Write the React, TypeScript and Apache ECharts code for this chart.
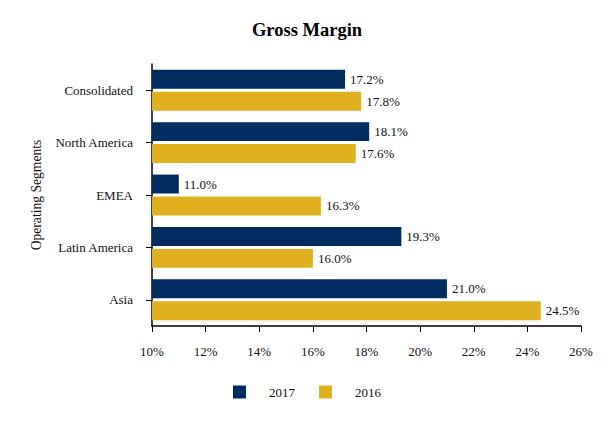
import React, { useEffect, useRef } from "react";
import * as echarts from "echarts";

const categories = ["Consolidated", "North America", "EMEA", "Latin America", "Asia"];
const values2017 = [17.2, 18.1, 11.0, 19.3, 21.0];
const values2016 = [17.8, 17.6, 16.3, 16.0, 24.5];
const seriesNames = ["2017", "2016"];
const xTicks = { min: 10, max: 26, interval: 2 };

const FONT = "'Liberation Serif', 'Times New Roman', serif";

export default function App() {
  const ref = useRef<HTMLDivElement>(null);
  useEffect(() => {
    document.body.style.margin = "0";
    if (!ref.current) return;
    const chart = echarts.init(ref.current, undefined, { renderer: "svg" });
    const label = {
      show: true,
      position: "right",
      distance: 5,
      formatter: (p: any) => p.value.toFixed(1) + "%",
      fontFamily: FONT,
      fontSize: 13,
      color: "#111",
    };
    chart.setOption({
      animation: false,
      textStyle: { fontFamily: FONT },
      title: {
        text: "Gross Margin",
        left: "center",
        top: 15,
        textStyle: { fontFamily: FONT, fontSize: 18.5, fontWeight: "bold", color: "#000" },
      },
      legend: {
        bottom: 25.5,
        left: "center",
        itemWidth: 13,
        itemHeight: 13,
        itemGap: 24,
        icon: "rect",
        textStyle: { fontFamily: FONT, fontSize: 13, color: "#111", padding: [0, 0, 0, 18] },
        data: seriesNames,
      },
      grid: { left: 152, right: 33, top: 64, bottom: 103 },
      xAxis: {
        type: "value",
        min: xTicks.min,
        max: xTicks.max,
        interval: xTicks.interval,
        axisLine: { show: true, lineStyle: { color: "#000", width: 1.5 } },
        axisTick: { show: true, length: 6, lineStyle: { color: "#000" } },
        splitLine: { show: false },
        axisLabel: {
          formatter: (v: number) => v + "%",
          fontFamily: FONT,
          fontSize: 13,
          color: "#111",
          margin: 19,
        },
      },
      yAxis: {
        type: "category",
        data: categories,
        inverse: true,
        name: "Operating Segments",
        nameLocation: "middle",
        nameGap: 108,
        nameRotate: 90,
        nameTextStyle: { fontFamily: FONT, fontSize: 13.6, color: "#111" },
        axisLine: { show: true, lineStyle: { color: "#000", width: 1.5 } },
        axisTick: { show: true, alignWithLabel: true, length: 6, lineStyle: { color: "#000" } },
        axisLabel: { fontFamily: FONT, fontSize: 13, color: "#111", margin: 19 },
      },
      series: [
        {
          name: seriesNames[0],
          type: "bar",
          data: values2017,
          itemStyle: { color: "#002D5F" },
          barGap: "16%",
          barCategoryGap: "22%",
          label,
        },
        {
          name: seriesNames[1],
          type: "bar",
          data: values2016,
          itemStyle: { color: "#E0B11F" },
          barGap: "16%",
          barCategoryGap: "22%",
          label,
        },
      ],
    });
    return () => chart.dispose();
  }, []);
  return <div ref={ref} style={{ width: 614, height: 429 }} />;
}
